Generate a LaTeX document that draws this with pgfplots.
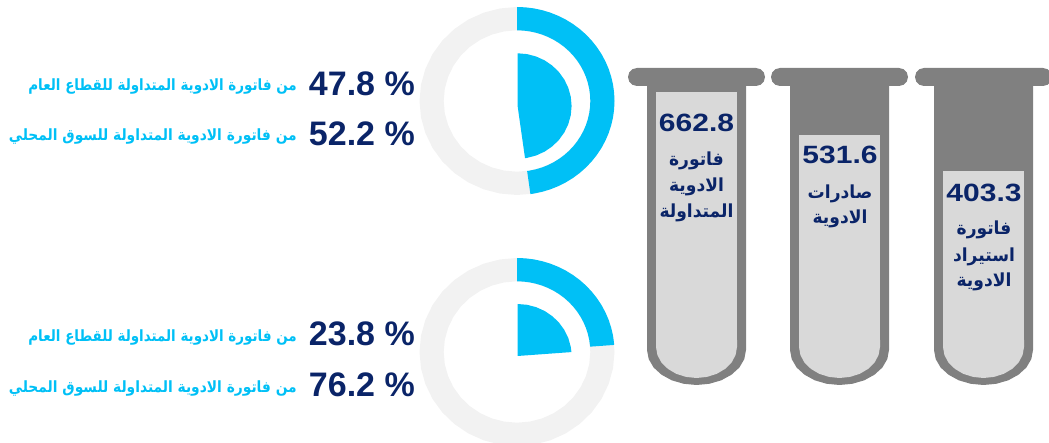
\documentclass[border=0pt]{standalone}
\usepackage{pgfplots}
\usepackage{pgfplotstable}
\usepackage{fontspec}
\pgfplotsset{compat=1.18}
\setmainfont{Liberation Sans}
\newfontfamily\arabicfont[Script=Arabic]{DejaVu Sans}
\TeXXeTstate=1
\definecolor{tubegray}{HTML}{808080}
\definecolor{tubefill}{HTML}{D9D9D9}
\definecolor{ringgray}{HTML}{F2F2F2}
\definecolor{skyblue}{HTML}{00C0F6}
\definecolor{navy}{HTML}{0A2468}
\newcommand{\ar}[1]{{\arabicfont\bfseries\beginR #1\endR}}
\pgfplotsset{
  disc/.style={hide axis, scale only axis, clip=false, anchor=center,
    xmin=-1, xmax=1, ymin=-1, ymax=1},
}
% tube outline, x relative to tube centre, y in pixels from the top
\pgfplotstableread{
x y
-59.5 68
59.5 68
64 69.2
67.3 72.5
68.5 77
67.3 81.5
64 84.8
59.5 86
49.5 86
49.5 350
47.8 359.1
42.9 367.5
35 374.7
24.8 380.3
12.8 383.8
0 385
-12.8 383.8
-24.8 380.3
-35 374.7
-42.9 367.5
-47.8 359.1
-49.5 350
-49.5 86
-59.5 86
-64 84.8
-67.3 81.5
-68.5 77
-67.3 72.5
-64 69.2
}\tubeouter
\pgfplotstableread{
x y
-40.5 340
40.5 340
40.5 347
39.1 355
35.1 362.5
28.6 368.9
20.3 373.8
10.5 376.9
0 378
-10.5 376.9
-20.3 373.8
-28.6 368.9
-35.1 362.5
-39.1 355
-40.5 347
}\tubeinner
\begin{document}
\begin{tikzpicture}
\useasboundingbox (0pt,0pt) rectangle (1049pt,443pt);
\clip (0pt,0pt) rectangle (1049pt,443pt);

% upper ring, 47.8 %
\begin{axis}[disc, at={(517pt,342pt)}, width=195pt, height=188pt]
\addplot[fill=ringgray, draw=none, data cs=polar] coordinates {
(0,1)(10,1)(20,1)(30,1)(40,1)(50,1)(60,1)(70,1)(80,1)(90,1)(100,1)(110,1)(120,1)(130,1)(140,1)(150,1)(160,1)(170,1)(180,1)(190,1)(200,1)(210,1)(220,1)(230,1)(240,1)(250,1)(260,1)(270,1)(280,1)(290,1)(300,1)(310,1)(320,1)(330,1)(340,1)(350,1)(360,1)
(360,.752)(350,.752)(340,.752)(330,.752)(320,.752)(310,.752)(300,.752)(290,.752)(280,.752)(270,.752)(260,.752)(250,.752)(240,.752)(230,.752)(220,.752)(210,.752)(200,.752)(190,.752)(180,.752)(170,.752)(160,.752)(150,.752)(140,.752)(130,.752)(120,.752)(110,.752)(100,.752)(90,.752)(80,.752)(70,.752)(60,.752)(50,.752)(40,.752)(30,.752)(20,.752)(10,.752)(0,.752)
};
\addplot[fill=skyblue, draw=none, data cs=polar] coordinates {
(90,1)(85,1)(80,1)(75,1)(70,1)(65,1)(60,1)(55,1)(50,1)(45,1)(40,1)(35,1)(30,1)(25,1)(20,1)(15,1)(10,1)(5,1)(0,1)(-5,1)(-10,1)(-15,1)(-20,1)(-25,1)(-30,1)(-35,1)(-40,1)(-45,1)(-50,1)(-55,1)(-60,1)(-65,1)(-70,1)(-75,1)(-80,1)(-82.08,1)
(-82.08,.752)(-80,.752)(-75,.752)(-70,.752)(-65,.752)(-60,.752)(-55,.752)(-50,.752)(-45,.752)(-40,.752)(-35,.752)(-30,.752)(-25,.752)(-20,.752)(-15,.752)(-10,.752)(-5,.752)(0,.752)(5,.752)(10,.752)(15,.752)(20,.752)(25,.752)(30,.752)(35,.752)(40,.752)(45,.752)(50,.752)(55,.752)(60,.752)(65,.752)(70,.752)(75,.752)(80,.752)(85,.752)(90,.752)
};
\end{axis}
\begin{axis}[disc, at={(517.6pt,337pt)}, width=108pt, height=105.4pt]
\addplot[fill=skyblue, draw=none, data cs=polar] coordinates {
(0,0)(90,1)(80,1)(70,1)(60,1)(50,1)(40,1)(30,1)(20,1)(10,1)(0,1)(-10,1)(-20,1)(-30,1)(-40,1)(-50,1)(-60,1)(-70,1)(-80,1)(-82.08,1)
};
\end{axis}

% lower ring, 23.8 %
\begin{axis}[disc, at={(517pt,91pt)}, width=195pt, height=188pt]
\addplot[fill=ringgray, draw=none, data cs=polar] coordinates {
(0,1)(10,1)(20,1)(30,1)(40,1)(50,1)(60,1)(70,1)(80,1)(90,1)(100,1)(110,1)(120,1)(130,1)(140,1)(150,1)(160,1)(170,1)(180,1)(190,1)(200,1)(210,1)(220,1)(230,1)(240,1)(250,1)(260,1)(270,1)(280,1)(290,1)(300,1)(310,1)(320,1)(330,1)(340,1)(350,1)(360,1)
(360,.752)(350,.752)(340,.752)(330,.752)(320,.752)(310,.752)(300,.752)(290,.752)(280,.752)(270,.752)(260,.752)(250,.752)(240,.752)(230,.752)(220,.752)(210,.752)(200,.752)(190,.752)(180,.752)(170,.752)(160,.752)(150,.752)(140,.752)(130,.752)(120,.752)(110,.752)(100,.752)(90,.752)(80,.752)(70,.752)(60,.752)(50,.752)(40,.752)(30,.752)(20,.752)(10,.752)(0,.752)
};
\addplot[fill=skyblue, draw=none, data cs=polar] coordinates {
(90,1)(85,1)(80,1)(75,1)(70,1)(65,1)(60,1)(55,1)(50,1)(45,1)(40,1)(35,1)(30,1)(25,1)(20,1)(15,1)(10,1)(5,1)(4.32,1)
(4.32,.752)(5,.752)(10,.752)(15,.752)(20,.752)(25,.752)(30,.752)(35,.752)(40,.752)(45,.752)(50,.752)(55,.752)(60,.752)(65,.752)(70,.752)(75,.752)(80,.752)(85,.752)(90,.752)
};
\end{axis}
\begin{axis}[disc, at={(517.6pt,87pt)}, width=108pt, height=104pt]
\addplot[fill=skyblue, draw=none, data cs=polar] coordinates {
(0,0)(90,1)(80,1)(70,1)(60,1)(50,1)(40,1)(30,1)(20,1)(10,1)(4.32,1)
};
\end{axis}

% tubes and all text, axis units are reference pixels
\begin{axis}[at={(0pt,0pt)}, anchor=south west, hide axis, scale only axis,
  width=1049pt, height=443pt,
  xmin=0, xmax=1049, ymin=0, ymax=443, y dir=reverse, clip=false]
\addplot[fill=tubegray, draw=none] table[x expr=\thisrow{x}+696.5, y=y] {\tubeouter};
\addplot[fill=tubegray, draw=none] table[x expr=\thisrow{x}+839.5, y=y] {\tubeouter};
\addplot[fill=tubegray, draw=none] table[x expr=\thisrow{x}+983.5, y=y] {\tubeouter};
\addplot[fill=tubefill, draw=none] table[x expr=\thisrow{x}+696.5, y=y] {\tubeinner};
\addplot[fill=tubefill, draw=none] table[x expr=\thisrow{x}+839.5, y=y] {\tubeinner};
\addplot[fill=tubefill, draw=none] table[x expr=\thisrow{x}+983.5, y=y] {\tubeinner};
\addplot[fill=tubefill, draw=none] coordinates {(656,92)(737,92)(737,348)(656,348)};
\addplot[fill=tubefill, draw=none] coordinates {(799,135)(880,135)(880,348)(799,348)};
\addplot[fill=tubefill, draw=none] coordinates {(943,171)(1024,171)(1024,348)(943,348)};

\tikzset{num/.style={text=navy, font=\bfseries\fontsize{25}{25}\selectfont, xscale=1.2, inner sep=0pt},
  lab/.style={text=navy, font=\fontsize{18}{18}\selectfont, xscale=.95, inner sep=0pt},
  pct/.style={text=navy, font=\bfseries\fontsize{34}{34}\selectfont, anchor=east, inner sep=0pt},
  rowlab/.style={text=skyblue, font=\fontsize{15.5}{15.5}\selectfont, xscale=.87, anchor=east, inner sep=0pt}}

\node[num] at (axis cs:696.5,123) {662.8};
\node[lab] at (axis cs:696.5,161) {\ar{فاتورة}};
\node[lab] at (axis cs:696.5,187) {\ar{الادوية}};
\node[lab] at (axis cs:696.5,213) {\ar{المتداولة}};

\node[num] at (axis cs:840,155) {531.6};
\node[lab] at (axis cs:840,194) {\ar{صادرات}};
\node[lab] at (axis cs:840,219) {\ar{الادوية}};

\node[num] at (axis cs:984,193) {403.3};
\node[lab] at (axis cs:984,230) {\ar{فاتورة}};
\node[lab] at (axis cs:984,257) {\ar{استيراد}};
\node[lab] at (axis cs:984,282) {\ar{الادوية}};

\node[pct] at (axis cs:415,84) {47.8 \%};
\node[pct] at (axis cs:415,134) {52.2 \%};
\node[pct] at (axis cs:415,334) {23.8 \%};
\node[pct] at (axis cs:415,385) {76.2 \%};

\node[rowlab] at (axis cs:297,87) {\ar{من فاتورة الادوية المتداولة للقطاع العام}};
\node[rowlab, xscale=1.025] at (axis cs:297,137) {\ar{من فاتورة الادوية المتداولة للسوق المحلي}};
\node[rowlab] at (axis cs:297,338) {\ar{من فاتورة الادوية المتداولة للقطاع العام}};
\node[rowlab, xscale=1.025] at (axis cs:297,389) {\ar{من فاتورة الادوية المتداولة للسوق المحلي}};
\end{axis}
\end{tikzpicture}
\end{document}
